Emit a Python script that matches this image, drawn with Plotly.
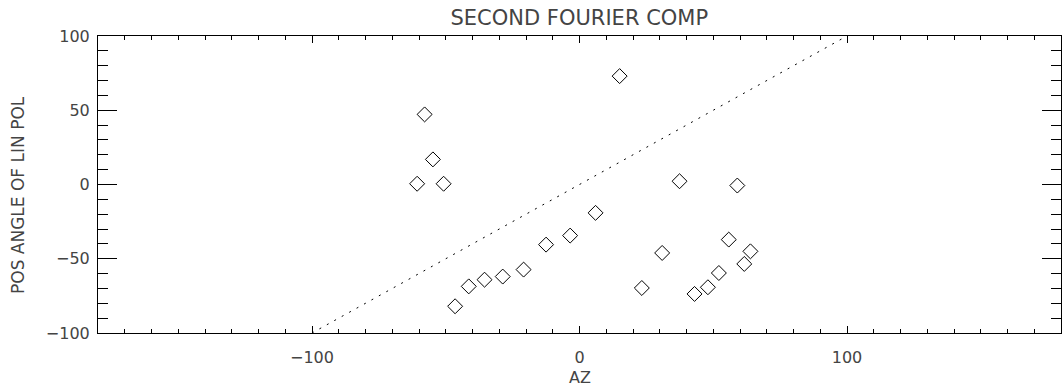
import plotly.graph_objects as go

# Data
az = [-57.9, 15.0, -54.8, -60.7, -50.8, 37.4, 59.0,
      6.0, -3.5, -12.5, -20.9, -28.7, -35.5, -41.4, -46.5,
      30.9, 23.3, 55.8, 63.9, 61.6, 52.1, 48.0, 43.0]
pos_angle = [47.2, 73.0, 16.9, 0.5, 0.5, 2.2, -0.7,
             -19.1, -34.4, -40.5, -57.3, -62.0, -64.1, -68.6, -82.0,
             -46.1, -69.7, -37.1, -45.0, -53.5, -59.6, -69.2, -73.7]
ref_x = [-100, 100]
ref_y = [-100, 100]
x_ticks = [-100, 0, 100]
y_ticks = [-100, -50, 0, 50, 100]

FONT = "DejaVu Sans"
TXT = "#444444"

fig = go.Figure()
fig.add_trace(go.Scatter(x=ref_x, y=ref_y, mode="lines",
                         line=dict(color="black", width=1, dash="2px,6.5px"),
                         hoverinfo="skip", showlegend=False))
fig.add_trace(go.Scatter(x=az, y=pos_angle, mode="markers",
                         marker=dict(symbol="diamond-open", size=11.5,
                                     color="black", line=dict(width=1, color="black")),
                         showlegend=False))

fig.update_layout(
    width=1062, height=390,
    margin=dict(l=98, r=1, t=36, b=57, autoexpand=False),
    paper_bgcolor="white", plot_bgcolor="white",
    font=dict(family=FONT, size=16, color=TXT),
    title=dict(text="SECOND FOURIER COMP", x=0.5455, xanchor="center",
               y=1 - 18 / 390, yanchor="middle", yref="container",
               font=dict(family=FONT, size=21, color=TXT)),
    annotations=[
        dict(text="AZ", xref="paper", yref="paper", x=0.5, y=(333 - 377) / 297,
             xanchor="center", yanchor="middle", showarrow=False,
             font=dict(family=FONT, size=16, color=TXT)),
        dict(text="POS ANGLE OF LIN POL", xref="paper", yref="paper",
             x=(18 - 98) / 963, y=(333 - 195) / 297, textangle=-90,
             xanchor="center", yanchor="middle", showarrow=False,
             font=dict(family=FONT, size=17, color=TXT)),
    ],
)
fig.update_xaxes(
    range=[-180, 180], showgrid=False, zeroline=False,
    showline=True, linecolor="black", linewidth=1, mirror="ticks",
    tickmode="array", tickvals=x_ticks, ticktext=["\u2212100", "0", "100"],
    ticks="inside", ticklen=7, tickcolor="black", tickwidth=1,
    ticklabelstandoff=10,
    minor=dict(dtick=10, ticks="inside", ticklen=4, tickcolor="black", tickwidth=1, showgrid=False),
)
fig.update_yaxes(
    range=[-100, 100], showgrid=False, zeroline=False,
    showline=True, linecolor="black", linewidth=1, mirror="ticks",
    tickmode="array", tickvals=y_ticks, ticktext=["\u2212100", "\u221250", "0", "50", "100"],
    ticks="inside", ticklen=19, tickcolor="black", tickwidth=1,
    ticklabelstandoff=4,
    minor=dict(dtick=10, ticks="inside", ticklen=10, tickcolor="black", tickwidth=1, showgrid=False),
)

fig.write_html("out.html")
